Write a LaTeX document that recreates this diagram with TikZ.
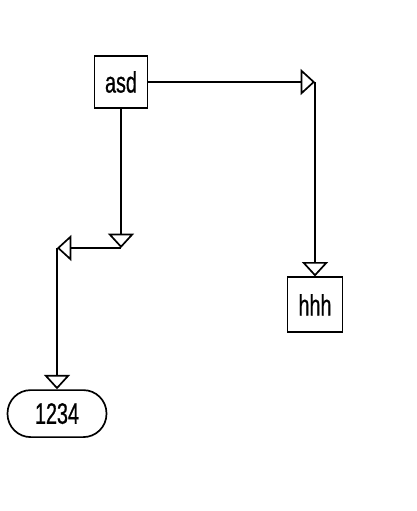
\documentclass[tikz,border=0pt]{standalone}
\usepackage{fontspec}
\newfontfamily\labelfont[FakeStretch=0.67, FakeBold=0.6]{Liberation Sans}
\usetikzlibrary{arrows.meta}

\tikzset{
  block/.style={draw, line width=1.2pt, font=\labelfont\fontsize{21}{21}\selectfont, inner sep=0pt},
  flow/.style={draw, line width=1.2pt, -{Triangle[open, width=0.65cm, length=0.36cm, line width=1.2pt]}},
}

\begin{document}
\begin{tikzpicture}
  \useasboundingbox (0, 0) rectangle (10.425, -12.775);

  \node[block, minimum width=1.325cm, minimum height=1.3cm] (asd) at (3.025, -2.05) {asd};
  \node[block, minimum width=1.375cm, minimum height=1.375cm] (hhh) at (7.875, -7.62) {hhh};
  \node[block, minimum width=2.475cm, minimum height=1.175cm, rounded corners=0.58cm] (num) at (1.425, -10.34) {1234};

  \coordinate (right) at (hhh |- asd);
  \coordinate (down) at (3.025, -6.2);
  \coordinate (left) at (num |- down);

  \draw[flow] (asd) -- (right);
  \draw[flow] (right) -- (hhh);
  
  \draw[flow] (asd) -- (down);
  \draw[flow] (down) -- (left);
  \draw[flow] (left) -- (num);
\end{tikzpicture}
\end{document}
